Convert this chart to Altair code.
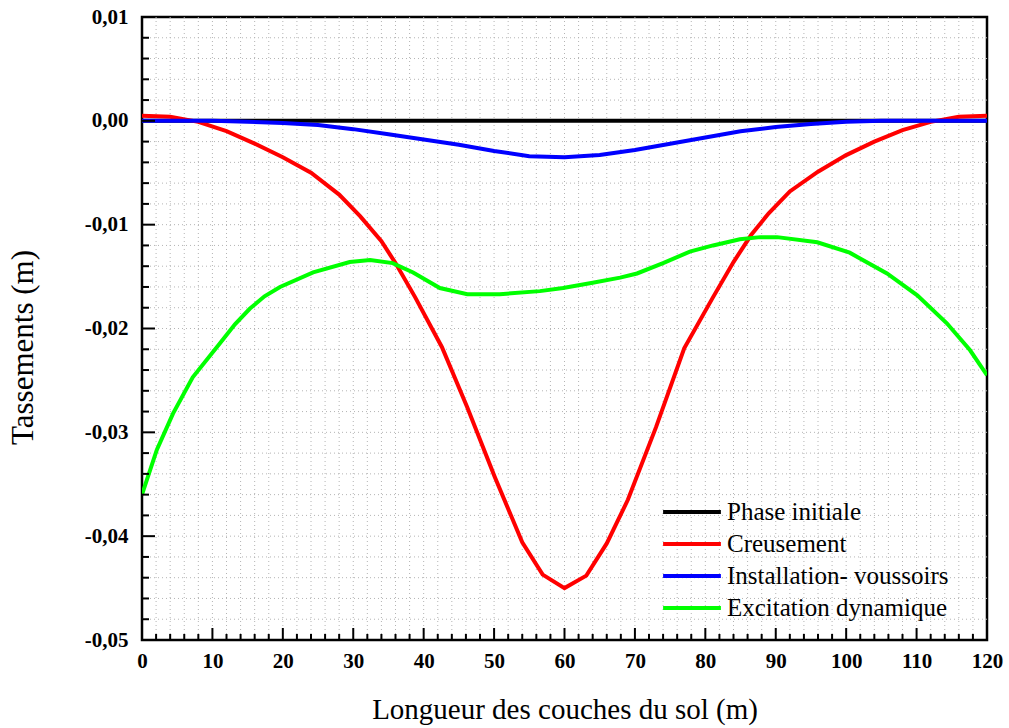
import altair as alt
import pandas as pd

# Settlement profiles along the soil layers (x in m, settlement in m)
series_names = ["Phase initiale", "Creusement", "Installation- voussoirs", "Excitation dynamique"]
series_colors = ["#000000", "#ff0000", "#0000ff", "#00ff00"]

x_initiale = [0, 120]
y_initiale = [0.0, 0.0]

x_creusement = [0, 4, 8, 12, 16, 20, 24, 28, 31, 34, 36, 38.8, 42.6, 46.2, 50.1, 54.0, 56.9,
                60, 63.1, 66.0, 69, 73, 77, 81, 84, 86.5, 89, 92, 96, 100, 104, 108, 112, 116, 120]
y_creusement = [0.0005, 0.0004, -0.0001, -0.0010, -0.0022, -0.0035, -0.0050, -0.0071, -0.0092,
                -0.0116, -0.0137, -0.0170, -0.0218, -0.0276, -0.0343, -0.0406, -0.0437,
                -0.0450, -0.0438, -0.0407, -0.0365, -0.0295, -0.0219, -0.0171, -0.0136,
                -0.0110, -0.0089, -0.0068, -0.0049, -0.0033, -0.0020, -0.0009, -0.0001,
                0.0004, 0.0005]

x_voussoirs = [0, 10, 15, 20, 25, 30, 35, 40, 45, 50, 55, 60, 65, 70, 75, 80, 85, 90, 95,
               100, 105, 110, 120]
y_voussoirs = [0.0, 0.0, -0.0001, -0.0002, -0.0004, -0.0008, -0.0013, -0.0018, -0.0023,
               -0.0029, -0.0034, -0.0035, -0.0033, -0.0028, -0.0022, -0.0016, -0.0010,
               -0.0006, -0.0003, -0.0001, 0.0, 0.0, 0.0]

x_dynamique = [0, 2.1, 4.4, 7.2, 11.1, 13.2, 15.3, 17.4, 19.6, 24.3, 29.5, 32.4, 35.6, 38.5,
               42.3, 46.2, 50.8, 56.5, 59.8, 64.0, 67.9, 70.3, 74.0, 77.8, 81.1, 84.9, 87.8,
               90.2, 95.9, 100.5, 105.8, 110.1, 114.3, 117.6, 120]
y_dynamique = [-0.0360, -0.0317, -0.0282, -0.0247, -0.0214, -0.0196, -0.0181, -0.0169,
               -0.0160, -0.0146, -0.0136, -0.0134, -0.0137, -0.0146, -0.0161, -0.0167,
               -0.0167, -0.0164, -0.0161, -0.0156, -0.0151, -0.0147, -0.0137, -0.0126,
               -0.0120, -0.0114, -0.0112, -0.0112, -0.0117, -0.0127, -0.0147, -0.0168,
               -0.0195, -0.0221, -0.0245]

# Axis tick and grid positions
x_major = [0, 10, 20, 30, 40, 50, 60, 70, 80, 90, 100, 110, 120]
x_minor = [v for v in range(0, 121, 2) if v % 10 != 0]
y_major = [0.01, 0.0, -0.01, -0.02, -0.03, -0.04, -0.05]
y_minor = [round(-0.05 + 0.002 * i, 3) for i in range(31) if i % 5 != 0]
x_grid = list(range(2, 120, 2))
y_grid = [round(-0.05 + 0.002 * i, 3) for i in range(1, 30)]

rows = []
for name, xs, ys in [
    (series_names[0], x_initiale, y_initiale),
    (series_names[1], x_creusement, y_creusement),
    (series_names[2], x_voussoirs, y_voussoirs),
    (series_names[3], x_dynamique, y_dynamique),
]:
    for order, (xv, yv) in enumerate(zip(xs, ys)):
        rows.append({"serie": name, "x": xv, "y": yv, "ordre": order})
df = pd.DataFrame(rows)

W, H = 845, 623
FONT = "Liberation Serif"
GRID = "#b4b4b4"

x_scale = alt.Scale(domain=[0, 120], nice=False, zero=False)
y_scale = alt.Scale(domain=[-0.05, 0.01], nice=False, zero=False)

# Dotted background grid
x_grid_rules = alt.Chart(pd.DataFrame({"v": x_grid})).mark_rule(
    color=GRID, strokeWidth=1, strokeDash=[1, 3]).encode(
    x=alt.X("v:Q", scale=x_scale), y=alt.value(0), y2=alt.value(H))
y_grid_rules = alt.Chart(pd.DataFrame({"v": y_grid})).mark_rule(
    color=GRID, strokeWidth=1, strokeDash=[1, 3]).encode(
    y=alt.Y("v:Q", scale=y_scale), x=alt.value(0), x2=alt.value(W))

lines = alt.Chart(df).mark_line(strokeWidth=4, clip=True).encode(
    x=alt.X("x:Q", scale=x_scale,
            axis=alt.Axis(values=x_major, title="Longueur des couches du sol (m)",
                          labelOverlap=False, labelFlush=False,
                          grid=False, ticks=False, domain=False, labelPadding=10,
                          labelFont=FONT, labelFontSize=21, labelFontWeight="bold",
                          labelColor="#000000", titleFont=FONT, titleFontSize=29,
                          titleFontWeight="normal", titleColor="#000000", titlePadding=24)),
    y=alt.Y("y:Q", scale=y_scale,
            axis=alt.Axis(values=y_major, title="Tassements (m)",
                          labelExpr="(datum.value < -0.0001 ? '-' : '') + replace(format(abs(datum.value), '.2f'), '.', ',')",
                          labelOverlap=False, labelFlush=False,
                          grid=False, ticks=False, domain=False, labelPadding=14,
                          labelFont=FONT, labelFontSize=21, labelFontWeight="bold",
                          labelColor="#000000", titleFont=FONT, titleFontSize=31,
                          titleFontWeight="normal", titleColor="#000000",
                          titleX=-103, titleY=330)),
    color=alt.Color("serie:N",
                    scale=alt.Scale(domain=series_names, range=series_colors),
                    sort=series_names,
                    legend=alt.Legend(title=None, orient="none", legendX=521, legendY=476,
                                      symbolType="M-1.7,0H1.7", symbolSize=1156,
                                      symbolStrokeWidth=4, symbolOffset=10,
                                      labelFont=FONT, labelFontSize=25,
                                      labelColor="#000000", labelLimit=400,
                                      rowPadding=0, labelOffset=16)),
    order=alt.Order("ordre:Q"),
)

# Inward tick marks along the left and bottom edges
y_major_ticks = alt.Chart(pd.DataFrame({"v": y_major})).mark_rule(
    color="#000000", strokeWidth=2).encode(
    y=alt.Y("v:Q", scale=y_scale), x=alt.value(0), x2=alt.value(13))
y_minor_ticks = alt.Chart(pd.DataFrame({"v": y_minor})).mark_rule(
    color="#000000", strokeWidth=2).encode(
    y=alt.Y("v:Q", scale=y_scale), x=alt.value(0), x2=alt.value(7))
x_major_ticks = alt.Chart(pd.DataFrame({"v": x_major})).mark_rule(
    color="#000000", strokeWidth=2).encode(
    x=alt.X("v:Q", scale=x_scale), y=alt.value(H), y2=alt.value(H - 12))
x_minor_ticks = alt.Chart(pd.DataFrame({"v": x_minor})).mark_rule(
    color="#000000", strokeWidth=2).encode(
    x=alt.X("v:Q", scale=x_scale), y=alt.value(H), y2=alt.value(H - 6))

chart = alt.layer(
    x_grid_rules, y_grid_rules, lines,
    y_major_ticks, y_minor_ticks, x_major_ticks, x_minor_ticks
).properties(
    width=W, height=H,
    autosize=alt.AutoSizeParams(type="none"),
    padding={"left": 142, "top": 17, "right": 22, "bottom": 88},
    background="#ffffff",
).configure_view(
    stroke="#000000", strokeWidth=2.5
)

chart.save("out.html", embed_options={"renderer": "svg", "actions": False})
